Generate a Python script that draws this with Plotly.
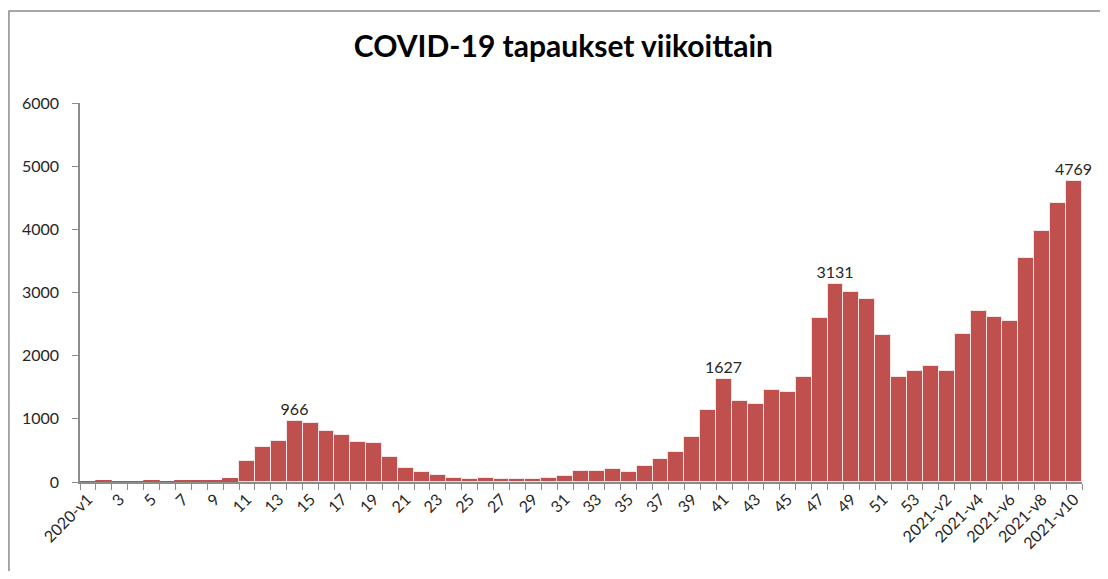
import plotly.graph_objects as go

weeks = [str(i) for i in range(1, 54)] + [f"2021-v{i}" for i in range(1, 11)]
weeks[0] = "2020-v1"
cases = [
    0, 15, 0, 0, 15, 0, 12, 12, 12, 40,
    332, 554, 649, 966, 939, 802, 744, 638, 617, 396,
    227, 158, 106, 69, 53, 63, 53, 53, 53, 63,
    95, 179, 179, 206, 164, 248, 359, 470, 718, 1135,
    1627, 1282, 1240, 1462, 1425, 1662, 2602, 3131, 3013, 2902,
    2322, 1662, 1752, 1836, 1752, 2348, 2702, 2612, 2549, 3541,
    3974, 4417, 4769,
]
labelled = {"14": 966, "41": 1627, "48": 3131, "2021-v10": 4769}
title_text = "COVID-19 tapaukset viikoittain"

xpos = list(range(1, len(weeks) + 1))
texts = [str(v) if labelled.get(w) == v else "" for w, v in zip(weeks, cases)]
tickvals = xpos[::2]
ticktext = weeks[::2]
line_colors = ["#C0504D" if v < 50 else "#F4E4E4" for v in cases]

FONT = "Lato, Open Sans, sans-serif"

fig = go.Figure(go.Bar(
    x=xpos, y=cases, text=texts, textposition="outside", cliponaxis=False,
    constraintext="none",
    textfont=dict(family=FONT, size=16, color="#262626"),
    marker=dict(color="#C0504D", line=dict(color=line_colors, width=1)),
))

fig.update_layout(
    width=1092, height=563,
    margin=dict(l=72, r=18, t=95, b=89, autoexpand=False),
    paper_bgcolor="white", plot_bgcolor="white",
    bargap=0, showlegend=False,
    font=dict(family=FONT, size=16, color="#262626"),
    title=dict(text="<b>" + title_text + "</b>", xref="paper", x=0.4825, xanchor="center",
               yref="container", y=0.931, yanchor="middle",
               font=dict(family=FONT, size=30, color="black")),
)
fig.update_xaxes(
    range=[0.5, len(weeks) + 0.5], tickmode="array", tickvals=tickvals, ticktext=ticktext,
    tickangle=-45, ticks="", showgrid=False, zeroline=False, automargin=False,
    showline=True, linecolor="#8C8C8C", linewidth=1.5,
    minor=dict(tick0=0.5, dtick=1, ticks="outside", ticklen=6, tickcolor="#8C8C8C", showgrid=False),
    tickfont=dict(family=FONT, size=16, color="#262626"),
)
fig.update_yaxes(
    range=[0, 6000], tickvals=[0, 1000, 2000, 3000, 4000, 5000, 6000],
    ticks="outside", ticklen=6, tickcolor="#8C8C8C", showgrid=False, zeroline=False,
    showline=True, linecolor="#8C8C8C", linewidth=1.5, automargin=False,
    tickfont=dict(family=FONT, size=16, color="#262626"), ticklabelstandoff=10,
)
fig.add_shape(type="rect", xref="paper", yref="paper",
              x0=-0.0709, x1=1.2, y0=-0.6, y1=1.2427,
              line=dict(color="#8C8C8C", width=1.5), fillcolor="rgba(0,0,0,0)", layer="below")

fig.write_html("out.html")
